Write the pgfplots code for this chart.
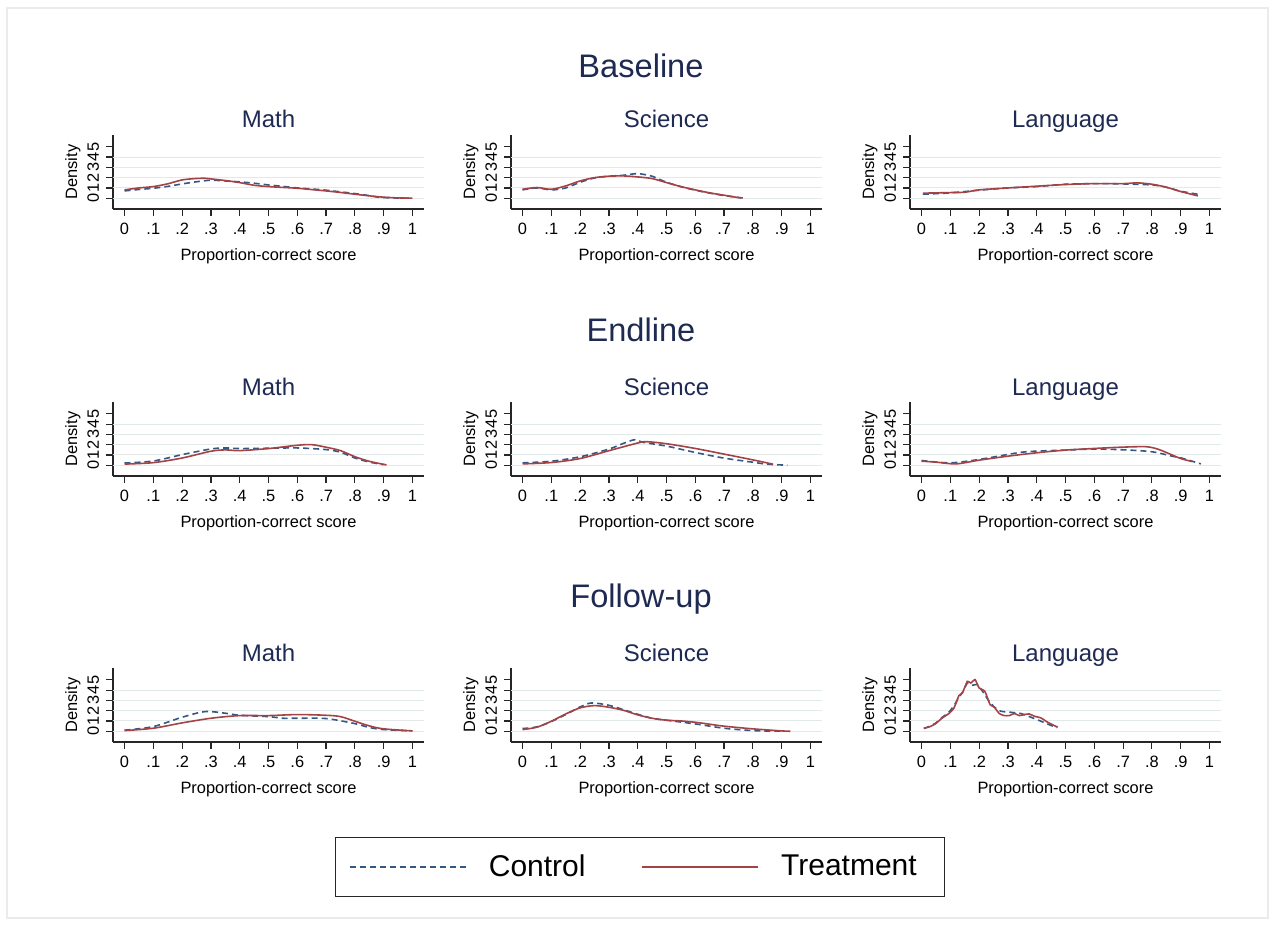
\documentclass[border=0pt]{standalone}
\usepackage{pgfplots}
\pgfplotsset{compat=1.18}
\usepackage{fontspec}
\setmainfont{Liberation Sans}
\definecolor{ctrlc}{RGB}{52,88,132}
\definecolor{trtc}{RGB}{165,66,70}
\definecolor{titlec}{RGB}{30,42,82}
\definecolor{gridc}{RGB}{226,233,233}
\definecolor{bordc}{RGB}{232,236,236}
\pgfplotsset{
  panel/.style={
    scale only axis, width=155.5pt, height=37pt, anchor=south west,
    xmin=-0.04, xmax=1.04, ymin=-1.05, ymax=6.15,
    axis lines=left, axis line style={-, line width=0.6pt, black!85},
    tick align=outside, major tick length=3.5pt,
    every tick/.style={line width=0.6pt, black!85},
    xtick={0,0.1,0.2,0.3,0.4,0.5,0.6,0.7,0.8,0.9,1},
    xticklabels={0,.1,.2,.3,.4,.5,.6,.7,.8,.9,1},
    ytick={0,1,2,3,4,5},
    yticklabel style={rotate=90, anchor=south},
    extra y ticks={0,1,2,3,4}, extra y tick labels={},
    extra y tick style={grid=major, major tick length=0pt},
    major grid style={line width=0.5pt, gridc},
    /pgf/number format/assume math mode=true,
    tick label style={font=\fontsize{8.2}{9.8}\selectfont},
    label style={font=\fontsize{8.2}{9.8}\selectfont},
    xlabel={Proportion-correct score}, ylabel={Density},
    ylabel shift=-7pt,
    title style={font=\fontsize{12}{14}\selectfont, color=titlec, at={(0.5,1)}, anchor=base, yshift=-2.5pt},
    clip=false,
  },
  ctrlline/.style={ctrlc, line width=0.8pt, dash pattern=on 3pt off 2pt, smooth, tension=0.5},
  trtline/.style={trtc, line width=0.8pt, smooth, tension=0.5},
}
\begin{document}
\begin{tikzpicture}
\path[use as bounding box] (0,0) rectangle (637.5pt,-463pt);
\draw[bordc, line width=0.7pt] (3.5pt,-4pt) rectangle (634pt,-459pt);
\node[font=\fontsize{16.3}{19}\selectfont, color=titlec, anchor=base] at (320.5pt,-38.5pt) {Baseline};
\node[font=\fontsize{16.3}{19}\selectfont, color=titlec, anchor=base] at (320.5pt,-170.75pt) {Endline};
\node[font=\fontsize{16.3}{19}\selectfont, color=titlec, anchor=base] at (320.5pt,-303.75pt) {Follow-up};

% ---------- Baseline ----------
\begin{axis}[panel, at={(56.5pt,-104.5pt)}, title={Math}]
\addplot[ctrlline] coordinates {(0,0.71)(0.05,0.85)(0.1,0.97)(0.15,1.15)(0.2,1.39)(0.25,1.6)(0.3,1.75)(0.35,1.68)(0.4,1.59)(0.45,1.46)(0.5,1.29)(0.55,1.15)(0.6,1.0)(0.65,0.9)(0.7,0.78)(0.75,0.62)(0.8,0.45)(0.85,0.25)(0.88,0.1)(0.9,0.06)(0.95,0.02)(1.0,0)};
\addplot[trtline] coordinates {(0,0.81)(0.05,1.0)(0.1,1.13)(0.15,1.4)(0.2,1.78)(0.25,1.92)(0.28,1.94)(0.3,1.88)(0.35,1.72)(0.4,1.52)(0.45,1.26)(0.5,1.13)(0.55,1.05)(0.6,0.97)(0.65,0.84)(0.7,0.71)(0.75,0.56)(0.8,0.39)(0.85,0.23)(0.9,0.1)(0.95,0.03)(1.0,0)};
\end{axis}
\begin{axis}[panel, at={(255.5pt,-104.5pt)}, title={Science}]
\addplot[ctrlline] coordinates {(0,0.81)(0.05,1.0)(0.1,0.81)(0.15,1.0)(0.2,1.55)(0.25,1.97)(0.3,2.14)(0.35,2.23)(0.4,2.39)(0.45,2.14)(0.48,1.78)(0.5,1.55)(0.55,1.12)(0.6,0.78)(0.65,0.5)(0.7,0.26)(0.76,0.03)};
\addplot[trtline] coordinates {(0,0.87)(0.05,1.04)(0.1,0.87)(0.15,1.2)(0.2,1.68)(0.25,2.0)(0.3,2.14)(0.35,2.17)(0.4,2.07)(0.45,1.91)(0.5,1.52)(0.55,1.13)(0.6,0.81)(0.65,0.52)(0.7,0.29)(0.75,0.06)(0.765,0.03)};
\end{axis}
\begin{axis}[panel, at={(455pt,-104.5pt)}, title={Language}]
\addplot[ctrlline] coordinates {(0.005,0.39)(0.1,0.52)(0.2,0.78)(0.3,1.0)(0.4,1.13)(0.5,1.36)(0.6,1.42)(0.7,1.39)(0.8,1.29)(0.85,1.07)(0.9,0.68)(0.965,0.36)};
\addplot[trtline] coordinates {(0.005,0.49)(0.1,0.55)(0.15,0.58)(0.2,0.81)(0.3,1.0)(0.4,1.17)(0.5,1.33)(0.6,1.42)(0.7,1.42)(0.75,1.49)(0.8,1.36)(0.85,1.07)(0.9,0.65)(0.96,0.23)};
\end{axis}

% ---------- Endline ----------
\begin{axis}[panel, at={(56.5pt,-238pt)}, title={Math}]
\addplot[ctrlline] coordinates {(0,0.21)(0.1,0.41)(0.2,1.03)(0.3,1.58)(0.35,1.68)(0.4,1.62)(0.5,1.65)(0.6,1.68)(0.7,1.52)(0.75,1.26)(0.8,0.7)(0.85,0.31)(0.9,0.05)};
\addplot[trtline] coordinates {(0,0.11)(0.1,0.25)(0.2,0.7)(0.3,1.36)(0.35,1.49)(0.4,1.42)(0.5,1.62)(0.6,1.94)(0.65,2.0)(0.7,1.75)(0.75,1.42)(0.8,0.83)(0.85,0.38)(0.91,0.03)};
\end{axis}
\begin{axis}[panel, at={(255.5pt,-238pt)}, title={Science}]
\addplot[ctrlline] coordinates {(0,0.23)(0.1,0.39)(0.2,0.82)(0.3,1.57)(0.35,2.12)(0.39,2.48)(0.42,2.22)(0.5,1.86)(0.6,1.24)(0.7,0.69)(0.8,0.29)(0.85,0.1)(0.92,0)};
\addplot[trtline] coordinates {(0,0.13)(0.1,0.26)(0.2,0.65)(0.3,1.41)(0.4,2.16)(0.43,2.29)(0.5,2.09)(0.6,1.63)(0.7,1.08)(0.8,0.52)(0.87,0.1)};
\end{axis}
\begin{axis}[panel, at={(455pt,-238pt)}, title={Language}]
\addplot[ctrlline] coordinates {(0,0.46)(0.1,0.23)(0.2,0.56)(0.3,1.05)(0.35,1.27)(0.4,1.37)(0.5,1.47)(0.6,1.57)(0.7,1.5)(0.8,1.31)(0.87,0.88)(0.9,0.72)(0.97,0.13)};
\addplot[trtline] coordinates {(0,0.39)(0.05,0.3)(0.12,0.13)(0.2,0.49)(0.3,0.88)(0.4,1.21)(0.5,1.47)(0.6,1.63)(0.7,1.76)(0.78,1.8)(0.82,1.57)(0.85,1.24)(0.9,0.65)(0.94,0.36)};
\end{axis}

% ---------- Follow-up ----------
\begin{axis}[panel, at={(56.5pt,-371pt)}, title={Math}]
\addplot[ctrlline] coordinates {(0,0.1)(0.1,0.45)(0.2,1.36)(0.28,1.91)(0.35,1.75)(0.4,1.55)(0.5,1.42)(0.55,1.26)(0.6,1.26)(0.7,1.23)(0.8,0.74)(0.85,0.36)(0.9,0.16)(1.0,0.03)};
\addplot[trtline] coordinates {(0,0.06)(0.1,0.29)(0.2,0.81)(0.3,1.26)(0.4,1.52)(0.5,1.52)(0.6,1.62)(0.7,1.55)(0.75,1.42)(0.8,0.97)(0.85,0.52)(0.9,0.23)(1.0,0.03)};
\end{axis}
\begin{axis}[panel, at={(255.5pt,-371pt)}, title={Science}]
\addplot[ctrlline] coordinates {(0,0.26)(0.05,0.42)(0.1,0.94)(0.15,1.62)(0.2,2.36)(0.24,2.75)(0.3,2.52)(0.35,2.1)(0.4,1.65)(0.45,1.26)(0.5,1.07)(0.6,0.71)(0.7,0.29)(0.8,0.06)(0.9,0)};
\addplot[trtline] coordinates {(0,0.16)(0.05,0.39)(0.1,0.97)(0.15,1.68)(0.2,2.27)(0.25,2.49)(0.3,2.33)(0.35,2.04)(0.4,1.59)(0.45,1.26)(0.5,1.07)(0.55,1.0)(0.6,0.87)(0.65,0.68)(0.7,0.49)(0.8,0.23)(0.9,0.03)(0.93,0)};
\end{axis}
\begin{axis}[panel, at={(455pt,-371pt)}, title={Language}]
\addplot[ctrlline, tension=0.3] coordinates {(0.008,0.26)(0.03,0.5)(0.05,0.8)(0.072,1.35)(0.095,1.85)(0.113,2.5)(0.13,3.3)(0.145,3.9)(0.159,4.69)(0.174,4.47)(0.194,4.53)(0.212,3.88)(0.235,2.9)(0.255,2.3)(0.276,1.94)(0.31,1.84)(0.345,1.72)(0.38,1.36)(0.415,0.97)(0.462,0.42)(0.47,0.35)};
\addplot[trtline, tension=0.3] coordinates {(0.008,0.29)(0.03,0.45)(0.049,0.74)(0.072,1.29)(0.095,1.72)(0.113,2.27)(0.13,3.47)(0.142,3.72)(0.159,4.85)(0.171,4.69)(0.186,5.02)(0.2,4.21)(0.22,3.88)(0.238,2.59)(0.252,2.36)(0.27,1.72)(0.287,1.52)(0.305,1.52)(0.322,1.72)(0.34,1.52)(0.357,1.62)(0.374,1.68)(0.392,1.46)(0.415,1.29)(0.438,0.87)(0.473,0.39)};
\end{axis}

% ---------- Legend ----------
\begin{axis}[hide axis, scale only axis, width=10pt, height=10pt, anchor=center,
  at={(320pt,-433.5pt)}, xmin=0, xmax=1, ymin=0, ymax=1,
  legend columns=2,
  legend image code/.code={\draw[#1] (0pt,0pt) -- (58pt,0pt);},
  legend style={at={(0.5,0.5)}, anchor=center, draw=black!85, line width=0.7pt,
    font=\fontsize{15}{18}\selectfont, inner xsep=7pt, inner ysep=6.5pt,
    /tikz/every odd column/.append style={column sep=9pt},
    /tikz/every even column/.append style={column sep=26pt}},
]
\addlegendimage{ctrlline, smooth=false}
\addlegendentry{Control}
\addlegendimage{trtline, smooth=false}
\addlegendentry{Treatment\rule{5pt}{0pt}}
\end{axis}
\end{tikzpicture}
\end{document}
